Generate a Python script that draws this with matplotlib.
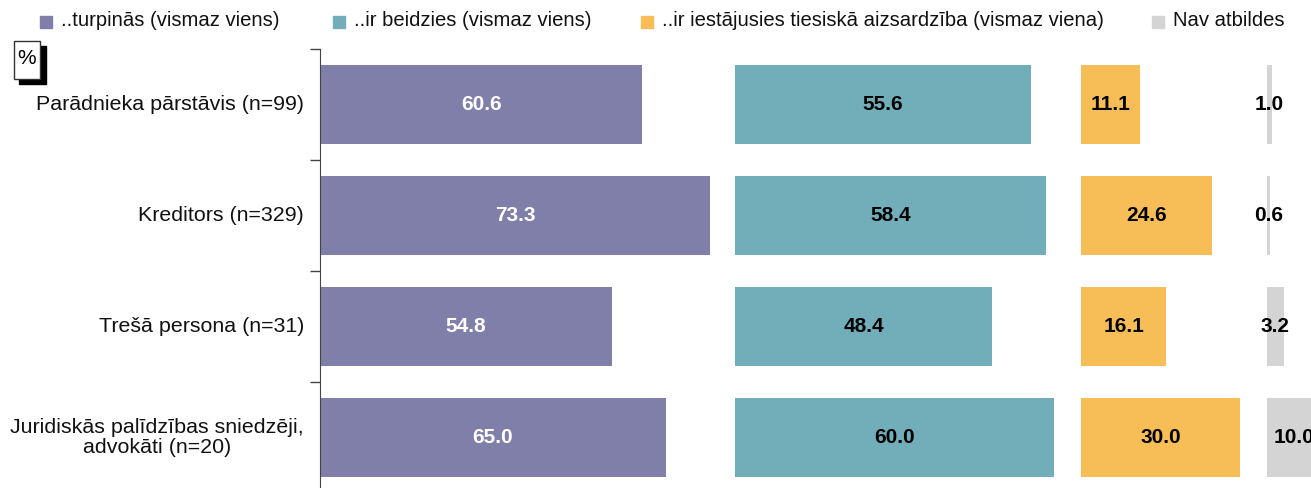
import numpy as np
import matplotlib.pyplot as plt
from matplotlib.patches import Rectangle

plt.rcParams['font.family'] = ['Liberation Sans', 'DejaVu Sans']

categories = ['Parādnieka pārstāvis (n=99)',
              'Kreditors (n=329)',
              'Trešā persona (n=31)',
              'Juridiskās palīdzības sniedzēji,\nadvokāti (n=20)']
series = ['..turpinās (vismaz viens)',
          '..ir beidzies (vismaz viens)',
          '..ir iestājusies tiesiskā aizsardzība (vismaz viena)',
          'Nav atbildes']
turpinas = [60.6, 73.3, 54.8, 65.0]
beidzies = [55.6, 58.4, 48.4, 60.0]
aizsardziba = [11.1, 24.6, 16.1, 30.0]
nav_atbildes = [1.0, 0.6, 3.2, 10.0]
values = [turpinas, beidzies, aizsardziba, nav_atbildes]

colors = ['#7f7fa9', '#71aeb9', '#f7bd57', '#d4d4d4']
text_colors = ['white', 'black', 'black', 'black']
offsets = [0, 78, 143, 178]  # start of each column on the shared x scale

W, H = 1311, 488
fig = plt.figure(figsize=(W / 100, H / 100), dpi=100)
ax = fig.add_axes([320 / W, (488 - 493) / H, 991 / W, 444 / H])

y = np.arange(len(categories))
for vals, off, c, tc in zip(values, offsets, colors, text_colors):
    ax.barh(y, vals, left=off, height=0.72, color=c)
    for yi, v in zip(y, vals):
        ax.text(off + v / 2, yi, f'{v:.1f}', ha='center', va='center',
                fontsize=15, fontweight='bold', color=tc, clip_on=False)

ax.set_xlim(0, 991 / 5.32)
ax.set_ylim(3.5, -0.5)
ax.set_yticks(np.arange(-0.5, 3.6, 1.0))
ax.set_yticklabels([])
ax.tick_params(axis='y', length=7, width=1, color='#444444')
ax.set_xticks([])
for s in ['top', 'right', 'bottom']:
    ax.spines[s].set_visible(False)
ax.spines['left'].set_color('#444444')

for yi, cat in zip(y, categories):
    ax.annotate(cat, xy=(0, yi), xytext=(-16, 0), textcoords='offset pixels',
                ha='right', va='center', multialignment='center',
                fontsize=15.4, color='#111111', linespacing=1.1)

# legend
leg_sq = [40, 333, 641, 1152]
for x0, c, lab in zip(leg_sq, colors, series):
    fig.patches.append(Rectangle((x0 / W, (H - 28) / H), 12 / W, 12 / H,
                                 transform=fig.transFigure, color=c))
    fig.text((x0 + 21) / W, (H - 21) / H, lab, fontsize=14.6,
             va='center', ha='left', color='#111111')

# "%" box with shadow
fig.patches.append(Rectangle((19 / W, (H - 84) / H), 27 / W, 38 / H,
                             transform=fig.transFigure, color='black'))
fig.patches.append(Rectangle((13.5 / W, (H - 79) / H), 26.5 / W, 38 / H,
                             transform=fig.transFigure, facecolor='white',
                             edgecolor='#333333', lw=1))
fig.text(26.5 / W, (H - 59) / H, '%', fontsize=15, ha='center', va='center')

fig.savefig('out.png', dpi=100)
